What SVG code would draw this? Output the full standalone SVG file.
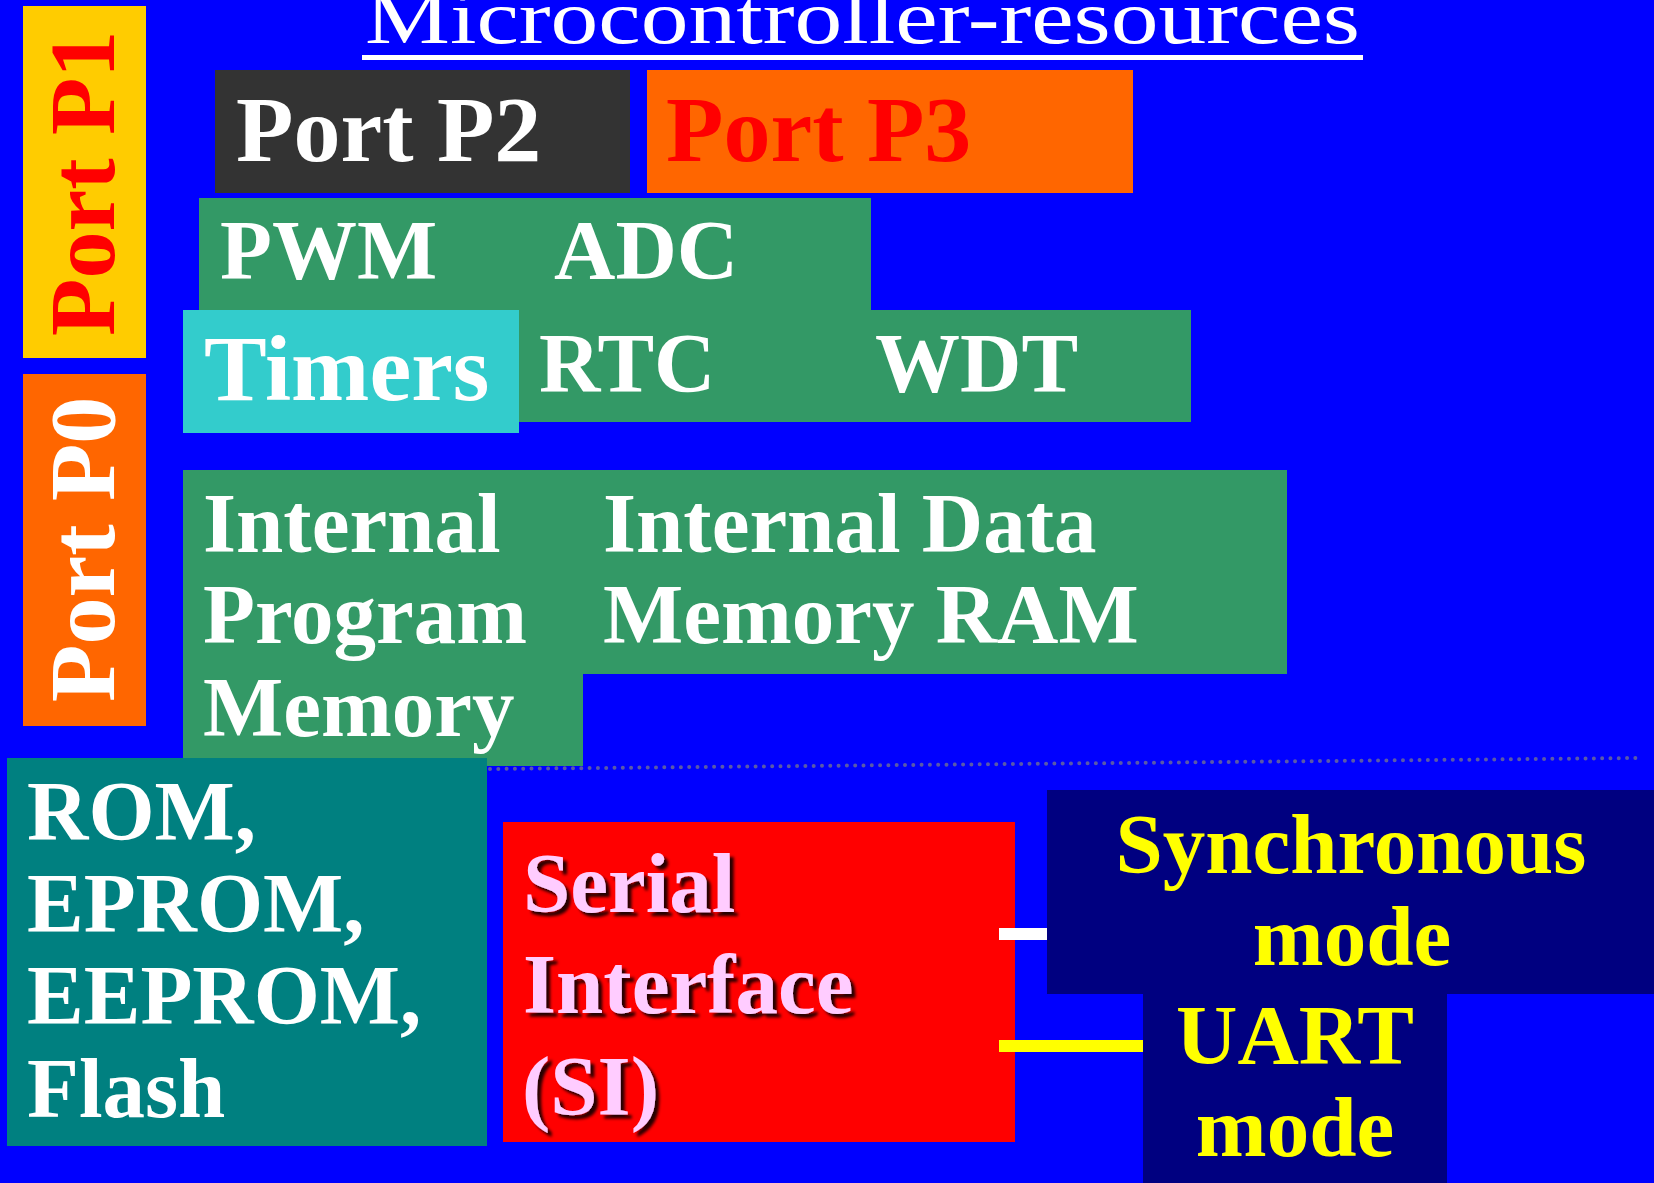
<svg xmlns="http://www.w3.org/2000/svg" width="1654" height="1183" viewBox="0 0 1654 1183">
  <defs>
    <style>
      .t { font-family: "Liberation Serif", "Times New Roman", serif; font-weight: bold; }
      .w { fill: #ffffff; }
      .r { fill: #ff0000; }
      .y { fill: #ffff00; }
      .pk { fill: #ffccff; filter: url(#shadow); }
      .s94 { font-size: 94px; }
      .s85 { font-size: 85px; }
      .green { fill: #339966; }
      .navy { fill: #000080; }
      .bar { stroke-width: 12; fill: none; }
    </style>
    <filter id="shadow" x="-10%" y="-10%" width="130%" height="140%">
      <feDropShadow dx="4" dy="4" stdDeviation="1.5" flood-color="#000000" flood-opacity="0.85"/>
    </filter>
  </defs>

  <!-- background -->
  <rect x="0" y="0" width="1654" height="1183" fill="#0000ff"/>

  <!-- title -->
  <g id="title">
    <text x="365" y="43" font-family="Liberation Serif, Times New Roman, serif" font-size="76" fill="#ffffff" textLength="995" lengthAdjust="spacingAndGlyphs">Microcontroller-resources</text>
    <rect x="362" y="55" width="1001" height="5" fill="#ffffff"/>
  </g>

  <!-- separator -->
  <line x1="490" y1="769" x2="1640" y2="758" stroke="#5a5aa8" stroke-width="4" stroke-linecap="round" stroke-dasharray="0 8.3"/>

  <g id="port-p1">
    <rect x="23" y="6" width="123" height="352" fill="#ffcc00"/>
    <text class="t r s94" transform="translate(114,336) rotate(-90)" font-size="93">Port P1</text>
  </g>

  <g id="port-p0">
    <rect x="23" y="374" width="123" height="352" fill="#ff6600"/>
    <text class="t w s94" transform="translate(114,702) rotate(-90)">Port P0</text>
  </g>

  <g id="port-p2">
    <rect x="215" y="70" width="415" height="123" fill="#333333"/>
    <text class="t w s94" x="236" y="161">Port P2</text>
  </g>

  <g id="port-p3">
    <rect x="647" y="70" width="486" height="123" fill="#ff6600"/>
    <text class="t r s94" x="666" y="161">Port P3</text>
  </g>

  <g id="peripherals">
    <rect class="green" x="199" y="198" width="672" height="113"/>
    <rect class="green" x="199" y="310" width="992" height="112"/>
    <text class="t w s85" x="220" y="279">PWM</text>
    <text class="t w s85" x="554" y="279">ADC</text>
    <text class="t w s85" x="539" y="392">RTC</text>
    <text class="t w s85" x="875" y="392">WDT</text>
  </g>

  <g id="timers">
    <rect x="183" y="310" width="336" height="123" fill="#33cccc"/>
    <text class="t w s94" x="204" y="400">Timers</text>
  </g>

  <g id="memory">
    <path class="green" d="M183 470 H1287 V674 H583 V766 H183 Z"/>
    <text class="t w s85" x="203" y="552">Internal</text>
    <text class="t w s85" x="203" y="643">Program</text>
    <text class="t w s85" x="203" y="736">Memory</text>
    <text class="t w s85" x="603" y="552">Internal Data</text>
    <text class="t w s85" x="603" y="643">Memory RAM</text>
  </g>

  <g id="rom">
    <rect x="7" y="758" width="480" height="388" fill="#008080"/>
    <text class="t w s85" x="27" y="840">ROM,</text>
    <text class="t w s85" x="27" y="932">EPROM,</text>
    <text class="t w s85" x="27" y="1024">EEPROM,</text>
    <text class="t w s85" x="27" y="1117">Flash</text>
  </g>

  <g id="serial-interface">
    <rect x="503" y="822" width="512" height="320" fill="#ff0000"/>
    <text class="t pk s85" x="523" y="912">Serial</text>
    <text class="t pk s85" x="523" y="1013">Interface</text>
    <text class="t pk s85" x="522" y="1115">(SI)</text>
  </g>

  <g id="synchronous-mode">
    <rect class="navy" x="1047" y="790" width="607" height="204"/>
    <text class="t y s85" x="1351" y="873" text-anchor="middle">Synchronous</text>
    <text class="t y s85" x="1352" y="965" text-anchor="middle">mode</text>
  </g>

  <g id="uart-mode">
    <rect class="navy" x="1143" y="994" width="304" height="189"/>
    <text class="t y s85" x="1295" y="1064" text-anchor="middle">UART</text>
    <text class="t y s85" x="1295" y="1156" text-anchor="middle">mode</text>
  </g>

  <g id="connectors">
    <line class="bar" x1="999" y1="934" x2="1047" y2="934" stroke="#ffffff"/>
    <line class="bar" x1="999" y1="1046" x2="1143" y2="1046" stroke="#ffff00"/>
  </g>
</svg>
